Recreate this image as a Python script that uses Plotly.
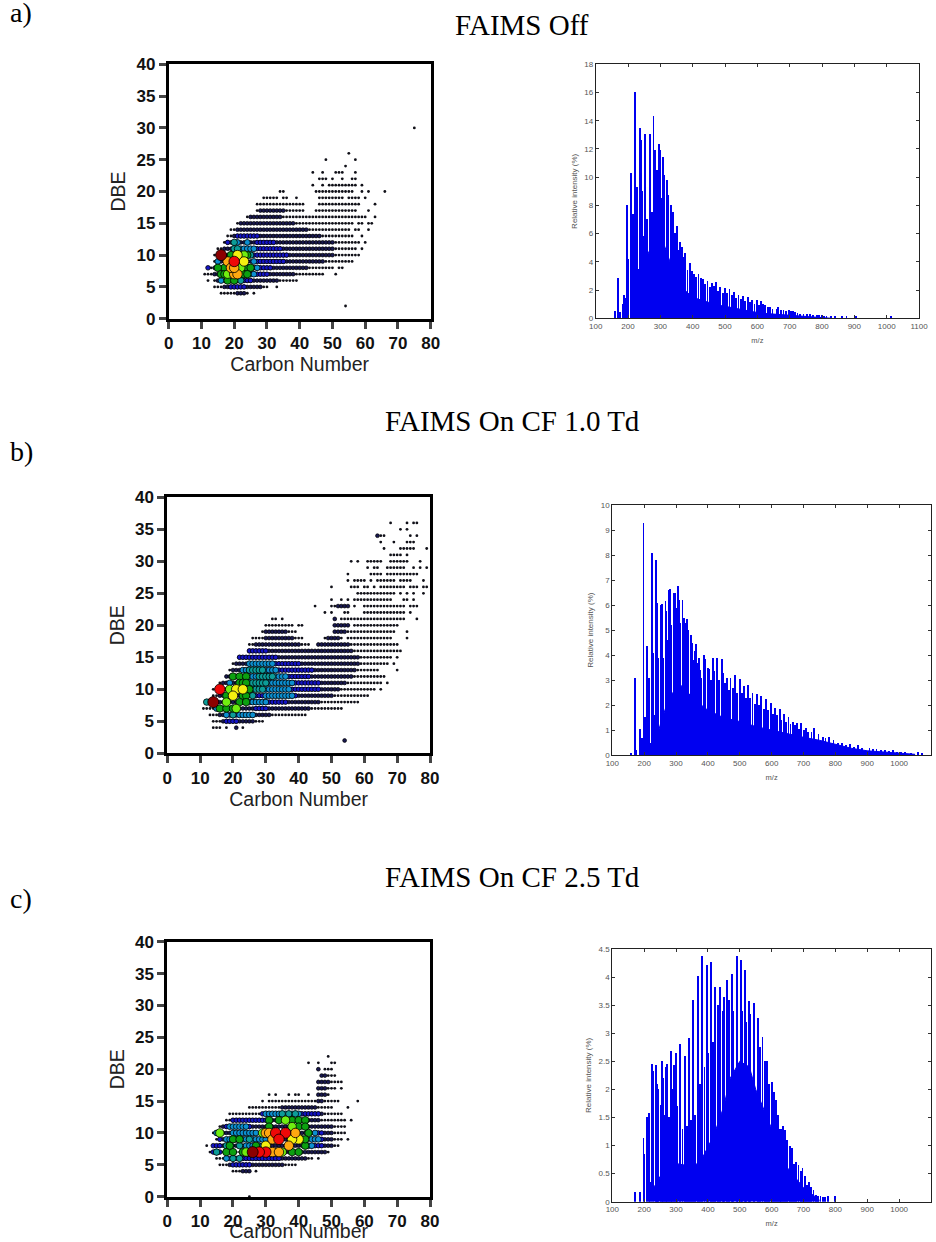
import plotly.graph_objects as go

W, H = 936, 1242

# ---------- Panel a: DBE vs carbon number, rows are (DBE, first C, last C) ----------
A_DOTS = [(2,54,54),(4,16,24),(4,26,26),(5,14,30),(5,33,33),(6,12,12),(6,14,39),(7,11,47),(7,51,51),
 (8,13,50),(8,52,53),(9,14,56),(10,14,58),(11,15,57),(11,59,59),(12,17,58),(12,60,60),(13,18,56),(13,59,59),
 (14,19,55),(14,57,58),(14,61,61),(15,21,56),(15,58,59),(15,61,62),(16,24,60),(16,63,63),(17,27,41),(17,45,57),(17,61,61),
 (18,27,41),(18,46,58),(18,63,63),(19,29,33),(19,35,36),(19,39,39),(19,46,53),(19,55,58),(19,60,60),
 (20,34,35),(20,45,56),(20,59,59),(20,61,61),(20,66,66),(21,44,44),(21,47,47),(21,49,57),(21,59,59),
 (22,46,48),(22,50,50),(22,53,53),(22,56,57),(23,44,44),(23,47,47),(23,51,53),(23,57,57),(24,54,54),
 (25,48,48),(25,57,57),(26,55,55),(30,75,75)]
A_NAVY = [(4,21,23),(5,17,28),(6,15,33),(7,14,38),(8,14,42),(9,15,47),(10,16,50),(11,17,50),(12,18,50),
 (13,20,46),(14,21,42),(15,22,38),(16,25,34),(17,28,35)]
A_BLUE = [(5,19,23),(6,18,25),(7,26,30),(8,12,12),(8,26,31),(9,27,35),(10,26,36),(11,27,34),(12,18,18),(12,27,32),(13,21,27)]
A_SKY = [(9,15,15),(8,15,15),(12,21,21),(12,24,24),(11,22,26),(9,26,26),(7,25,26),(6,16,16),(8,27,27)]
A_TEAL = [(12,20,20),(11,20,21),(6,22,22),(10,25,25)]
A_GREEN = [(10,19,19),(8,17,17),(8,15,15),(7,16,17),(6,18,18),(6,20,20),(10,22,22),(10,24,24),(9,22,22),(8,23,25),(7,22,24)]
A_LIME = [(8,22,22),(10,23,23),(7,18,18)]
A_YELLOW = [(10,21,21),(9,23,23)]
A_ORANGE = [(9,18,18),(7,20,21),(8,19,20)]
A_RED = [(9,20,20)]
A_DARK = [(10,16,16)]

# ---------- Panel b ----------
B_DOTS = [(2,54,54),(4,14,16),(4,18,18),(4,21,21),(4,23,23),(5,14,29),(6,13,42),(7,11,53),(8,13,58),(9,14,61),
 (10,14,63),(10,65,65),(11,16,65),(11,67,67),(12,18,66),(13,19,64),(13,70,70),(14,20,67),(14,69,69),
 (15,22,68),(15,70,70),(16,25,70),(16,71,71),(17,25,43),(17,46,70),(18,26,41),(18,48,49),(18,51,53),(18,55,68),(18,73,73),
 (19,29,39),(19,51,56),(19,57,69),(19,73,73),(20,30,36),(20,37,38),(20,40,41),(20,51,55),(20,57,70),
 (21,32,33),(21,35,35),(21,51,51),(21,53,56),(21,57,72),(21,76,76),(22,48,48),(22,50,50),(22,54,55),(22,60,72),(22,74,74),
 (23,45,45),(23,50,55),(23,57,57),(23,60,72),(23,74,76),(24,50,50),(24,53,53),(24,55,55),(24,57,68),(24,72,73),(24,75,75),
 (25,58,69),(25,71,71),(25,73,73),(25,75,75),(25,78,78),(26,50,50),(26,56,58),(26,60,61),(26,63,63),(26,65,72),(26,74,76),(26,78,79),
 (27,55,55),(27,57,60),(27,62,62),(27,64,69),(27,71,74),(27,78,78),(28,55,55),(28,62,65),(28,67,76),
 (29,61,61),(29,63,64),(29,67,72),(29,75,75),(29,77,77),(29,79,79),(30,56,56),(30,58,58),(30,61,65),(30,68,73),(30,77,77),
 (31,68,71),(31,73,73),(32,66,66),(32,71,75),(32,79,79),(33,65,65),(33,69,69),(33,73,75),(34,64,66),(34,74,74),(34,76,76),
 (35,71,71),(35,73,73),(36,68,68),(36,73,73),(36,75,76)]
B_NAVY = [(2,54,54),(4,21,21),(5,17,26),(6,16,31),(7,15,43),(8,15,46),(9,16,50),(10,17,52),(11,17,54),(12,18,56),(13,20,57),(14,21,58),
 (15,22,58),(16,25,56),(17,27,40),(17,46,55),(18,30,38),(18,49,52),(19,30,36),(19,51,54),(20,51,55),(21,51,51),(23,52,55),(34,64,64)]
B_BLUE = [(5,18,21),(6,18,26),(7,27,30),(8,23,36),(8,15,15),(9,27,39),(10,38,46),(11,38,46),(12,37,43),(13,34,44),(14,25,40),(15,22,33),(16,25,30)]
B_SKY = [(7,15,15),(6,18,18),(6,22,26),(8,25,30),(9,30,38),(10,30,37),(11,19,19),(11,30,38),(12,25,36),(13,23,33),(14,25,32)]
B_TEAL = [(8,12,12),(10,26,29),(11,25,30),(12,28,32),(13,25,29),(6,20,20),(9,26,26)]
B_GREEN = [(12,20,20),(12,22,22),(12,24,24),(11,22,24),(9,18,18),(9,23,24),(7,16,16),(7,18,18),(7,20,20),(8,22,22),(8,24,24),(10,24,25)]
B_LIME = [(8,18,18),(7,21,21),(10,19,19)]
B_YELLOW = [(10,21,21),(10,23,23),(9,20,20)]
B_ORANGE = []
B_RED = [(10,16,16)]
B_DARK = [(8,14,14)]

# ---------- Panel c ----------
C_DOTS = [(0,25,25),(4,20,23),(4,25,25),(4,27,27),(5,16,39),(6,15,44),(6,46,46),(7,13,49),(8,12,12),(8,14,52),(9,15,53),(9,55,55),
 (10,14,54),(11,16,54),(12,18,54),(12,56,56),(13,19,53),(14,25,50),(14,55,55),(15,29,29),(15,31,52),(15,58,58),
 (16,31,31),(16,33,33),(16,37,37),(16,39,40),(16,43,43),(16,46,49),(17,47,51),(17,53,53),(18,46,52),(18,53,53),(19,47,51),
 (20,46,46),(20,48,50),(21,43,43),(21,46,46),(21,50,51),(22,49,49)]
C_NAVY = [(4,23,25),(5,19,35),(6,20,42),(7,25,48),(8,16,50),(9,17,50),(10,16,50),(11,17,50),(12,20,46),(13,30,47),(14,35,45),
 (15,46,47),(16,46,48),(17,46,48),(18,46,49),(19,47,48),(20,46,46)]
C_BLUE = [(5,20,25),(6,18,34),(7,14,14),(7,16,16),(8,14,16),(8,44,47),(9,16,16),(9,47,47),(10,15,15),(10,46,47),(11,18,25),(12,20,30),(13,29,46)]
C_SKY = [(9,18,30),(10,15,15),(10,20,27),(10,45,45),(11,19,24),(8,24,30),(8,42,44),(13,30,40),(7,15,15),(6,18,18),(9,44,46)]
C_TEAL = [(7,15,15),(6,20,20),(6,22,22),(8,18,18),(8,22,22),(9,25,25),(13,35,35),(13,37,37),(13,39,39)]
C_GREEN = [(7,18,18),(7,20,20),(7,23,23),(9,20,20),(9,22,22),(8,19,19),(8,27,27),(10,43,43),(8,42,42),(12,31,31),(12,34,34),(12,38,38),
 (12,40,40),(12,42,42),(11,31,31),(11,40,40),(11,42,42),(7,33,33),(7,38,38),(7,40,40),(9,41,42)]
C_LIME = [(10,16,16),(7,24,24),(7,35,35),(11,38,38),(10,29,29),(12,36,36)]
C_YELLOW = [(9,40,40),(9,38,38),(8,30,30)]
C_ORANGE = [(10,30,31),(9,32,32),(8,37,37),(7,32,32),(7,34,34),(10,39,39)]
C_RED = [(7,30,30),(10,33,33),(7,28,28),(10,36,36),(9,34,34)]
C_DARK = [(7,26,26)]

# ---------- Spectra: m/z and relative intensity ----------
A_MZ = [158,169,173,183.5,186.6,194,197,200,207,211,214,217.5,221.6,226,229,235,240,243,248,250,252.6,258,266,268,273,278,283.5,
 288,294,297,302,307,312,319.6,323.7,332,337,350.5,361,366,376,390,397,404,417,431,445,459,472,484,500,513,526,541,555,569,582,598,610,624,639,
 664,680,696,709,723,742,763,783,798,813,840,860,875,905,1012]
A_INT = [.5,2.85,.4,1,1.65,1.4,8,4.2,10.3,4.5,7.4,1.5,16,9.3,3.5,13.5,12.6,9,5.8,11.9,13.05,7,13.05,11.6,7.5,14.3,11.9,
 10.5,12.3,11.9,8.5,11.4,10.1,9.75,8.7,8,7.5,6.5,5.4,5,4.6,3.9,3.3,3.1,3.1,2.75,2.6,2.5,2.55,2.2,2.1,2.05,1.85,1.65,1.55,1.5,1.25,1.25,1.2,.9,.75,
 .75,.6,.6,.5,.35,.3,.25,.2,.2,.15,.1,.1,.08,.08,.08]
A_MID_MZ = [345,356,370,383,410,424,438,452,465,478,492,506,520,534,548,562,576,590,604,617,632,646,660,672,688,702,716,732,752,772,790,806,826]
A_MID_INT = [6,4.8,4.3,3.4,2.9,2.8,2.4,2.2,2.3,1.9,1.8,1.8,1.6,1.4,1.35,1.2,1.1,1,.9,1,.8,.65,.65,.6,.5,.5,.4,.3,.25,.22,.2,.15,.12]
A_FILL_MZ = [212,225,240,255,270,285,300,315,330,345,360,380,400,425,450,475,500,530,560,590,620,650,680,720,760,800,830]
A_FILL_INT = [.2,1.5,3,4.2,5,5.6,5.8,5,4,3.2,2.4,1.9,1.5,1.3,1.1,.95,.85,.7,.55,.45,.35,.3,.25,.2,.12,.05,0]

B_MZ = [160,172,175,187,189,195,199,203.5,210,213,216,220,224.5,230,234,238,242,245,253,256,259,268,270,274,280,283,286,294.6,296.6,301,
 307,310,314,321,325,329,335,338,348,350,359,363.6,373,377,388,393,405,416,421,429.5,436,444,449,461,472,486,502,513,527,541,555,568.6,583,598,611.5,626,639,654,668,
 681.6,694,710,734,762,781,809,846,872,908,930,956,982,1008,1039,1060,1073]
B_INT = [.1,3.1,.2,1.05,.5,.7,9.3,1.55,4.35,2,3.1,.5,8.1,4.1,1.6,7.8,6.1,3.9,6,6.05,3.9,6.15,5.75,4.6,6.6,6.65,5.2,6.5,6.5,5.9,
 6.75,6.2,5.3,6.2,5.5,5.3,5.45,5,4.8,4.5,4.15,4.45,3.9,3.4,4,3.85,3.45,3.9,3.35,3.9,3,3.85,3.3,3.1,3.1,3.2,3.05,2.75,2.8,2.5,2.45,2.35,2.25,2.1,1.9,1.85,1.65,1.55,1.35,
 1.3,1.3,1.1,1.08,.75,.72,.5,.45,.4,.3,.25,.2,.2,.15,.1,.15,.1]
B_MID_MZ = [354,367,381,400,410,454,467,479,493,507,520,534,548,562,576,590,604,618,632,646,660,675,688,702,716,726,748,770,795,822,835,860,885,920,945,968,995,1020]
B_MID_INT = [3.8,3.7,3.1,3.5,3,2.9,2.6,2.7,2.5,2.5,2.3,2.3,2.05,2,1.85,1.8,1.65,1.6,1.4,1.35,1.25,1.2,1.05,1,.95,.95,.85,.7,.62,.5,.42,.35,.3,.25,.2,.18,.15,.12]
B_FILL_MZ = [228,250,280,320,350,400,450,500,550,600,650,700,750,800,850,900,950,1000,1050]
B_FILL_INT = [.2,1.2,2.4,2.8,2.3,1.8,1.5,1.35,1.15,1,.85,.72,.6,.45,.28,.18,.13,.08,.04]

C_MZ = [172,188,199,202,210,215,218,224.5,230,238,242,245,252,256,259,265,269.5,272.6,278,285,288,295.6,300,305,313,321,328,335,341.6,349,355,361,370,376,
 383.5,390,397,403,410.7,417,424,433.7,439,448,452.5,462,467,475.5,480,491,494,505,508,518,521,531,534,544.6,558,572,586,602,615,627,631,644,657.5,670,685,698,
 711,725.5,739,746,754,762,769,778,800]
C_INT = [.18,.18,1.13,.85,1.5,1.58,.35,2.45,2.32,2.44,2.1,2,1.72,2.5,2.2,1.55,2.4,2.45,1.5,2.68,2,2.43,2.64,1.7,2.8,1.3,2.6,1.35,2.92,1.45,3.6,1.55,4.02,2.1,
 4.38,2.4,4.22,2.65,4.27,2.85,3.82,3.5,3.83,3.4,3.65,3.95,3.6,4.05,3.4,4.37,3.6,4.3,3.4,4.13,3.2,3.57,3.35,3.53,3.27,2.93,2.5,2.14,1.82,1.3,1.3,1.28,1,.68,.65,.6,
 .29,.27,.12,.1,.1,.08,.08,.1,.1]
C_MID_MZ = [565,579,593,608,622,636,650,664,677,692,705,718,732]
C_MID_INT = [2.75,2.5,2.1,1.95,1.55,1.35,1.1,.95,.7,.55,.45,.35,.2]
C_FILL_MZ = [230,250,280,330,350,380,420,450,470,500,530,550,600,630,650,700,750]
C_FILL_INT = [.25,.45,.7,.65,.6,.75,1.2,1.7,2.2,2.5,2.4,2,1.3,.85,.6,.25,.03]

# ---------- Axis labels ----------
SCATTER_XTICKS = [0,10,20,30,40,50,60,70,80]
SCATTER_YTICKS = [0,5,10,15,20,25,30,35,40]
MZ_TICKS = [100,200,300,400,500,600,700,800,900,1000,1100]
A_YTICKS = [0,2,4,6,8,10,12,14,16,18]
B_YTICKS = [0,1,2,3,4,5,6,7,8,9,10]
C_YTICKS = [0,0.5,1,1.5,2,2.5,3,3.5,4,4.5]
TITLES = ["FAIMS Off","FAIMS On CF 1.0 Td","FAIMS On CF 2.5 Td"]
LETTERS = ["a)","b)","c)"]

# ---------- Styling and layout (pixels) ----------
LEVELS = [("dots","#101018",2.8,0),("navy","#181850",3.8,.7),("blue","#1414c8",4.6,.8),("sky","#0c8fd0",5.8,.8),
 ("teal","#0c9c98",6.5,.8),("green","#0ca010",7.5,.8),("lime","#70ee10",8.5,.8),("yellow","#f4f010",9.5,.8),
 ("orange","#ffa810",9.5,.8),("red","#ee0808",10.5,.8),("dark","#8c0000",11,.8)]
SETS = [[A_DOTS,A_NAVY,A_BLUE,A_SKY,A_TEAL,A_GREEN,A_LIME,A_YELLOW,A_ORANGE,A_RED,A_DARK],
        [B_DOTS,B_NAVY,B_BLUE,B_SKY,B_TEAL,B_GREEN,B_LIME,B_YELLOW,B_ORANGE,B_RED,B_DARK],
        [C_DOTS,C_NAVY,C_BLUE,C_SKY,C_TEAL,C_GREEN,C_LIME,C_YELLOW,C_ORANGE,C_RED,C_DARK]]
SPECTRA = [(A_MZ,A_INT,A_MID_MZ,A_MID_INT,A_FILL_MZ,A_FILL_INT,A_YTICKS,18),(B_MZ,B_INT,B_MID_MZ,B_MID_INT,B_FILL_MZ,B_FILL_INT,B_YTICKS,10),
           (C_MZ,C_INT,C_MID_MZ,C_MID_INT,C_FILL_MZ,C_FILL_INT,C_YTICKS,4.5)]

SC_BOX = [(168.7,430.7,64.3,318.7),(167.3,430,497.3,753.3),(167.3,430,941.7,1196.7)]
SP_BOX = [(595.7,919,64.3,318.3),(612.3,931,505,755.3),(612.3,931,949,1201.7)]
TITLE_POS = [(522,25),(512,421),(512,877)]
LETTER_Y = [12,451,898]

def dom(b):
    return [b[0]/W,b[1]/W],[1-b[3]/H,1-b[2]/H]

fig = go.Figure()
layout = dict(width=W,height=H,margin=dict(l=0,r=0,t=0,b=0),paper_bgcolor="white",plot_bgcolor="white",
              showlegend=False,bargap=0,barmode="overlay",annotations=[])
SANS = "Liberation Sans"
SERIF = "Liberation Serif"

for i in range(3):
    ax = 2*i+1
    xn, yn = f"x{ax}", f"y{ax}"
    for (name,col,size,lw),rows in zip(LEVELS,SETS[i]):
        xs,ys=[],[]
        for d,c0,c1 in rows:
            for c in range(c0,c1+1):
                xs.append(c); ys.append(d)
        if not xs:
            continue
        fig.add_trace(go.Scatter(x=xs,y=ys,mode="markers",xaxis=xn,yaxis=yn,name=name,cliponaxis=False,
            marker=dict(size=size,color=col,line=dict(color="#000000",width=lw))))
    dx,dy = dom(SC_BOX[i])
    base = dict(ticks="outside",ticklen=7,tickwidth=2.5,automargin=False,showline=True,linewidth=2.8,linecolor="#000",mirror=True,
                showgrid=False,zeroline=False,tickfont=dict(family=SANS,size=17,color="#111",weight=700))
    layout[f"xaxis{ax}"] = dict(domain=dx,anchor=yn,range=[0,80],tickvals=SCATTER_XTICKS,
        title=dict(text="Carbon Number",standoff=6,font=dict(family=SANS,size=19.5,color="#222")),**base)
    layout[f"yaxis{ax}"] = dict(domain=dy,anchor=xn,range=[0,40],tickvals=SCATTER_YTICKS,
        title=dict(text="DBE",standoff=6,font=dict(family=SANS,size=19.5,color="#222")),**base)
    ax = 2*i+2
    xn, yn = f"x{ax}", f"y{ax}"
    mz,inten,mmz,mint,fx,fy,yt,ymax = SPECTRA[i]
    fig.add_trace(go.Scatter(x=fx,y=fy,mode="lines",fill="tozeroy",fillcolor="#0000f0",line=dict(color="#0000f0",width=1),xaxis=xn,yaxis=yn))
    fig.add_trace(go.Bar(x=mz,y=inten,width=2.6,marker=dict(color="#0000f0",line=dict(width=0)),xaxis=xn,yaxis=yn))
    fig.add_trace(go.Bar(x=mmz,y=mint,width=2.6,marker=dict(color="#0000f0",line=dict(width=0)),xaxis=xn,yaxis=yn))
    dx,dy = dom(SP_BOX[i])
    common = dict(ticks="inside",ticklen=3,tickwidth=.7,tickcolor="#333",showline=True,linewidth=1,linecolor="#222",mirror="ticks",automargin=False,
                  showgrid=False,zeroline=False,tickfont=dict(family=SANS,size=8,color="#555"))
    layout[f"xaxis{ax}"] = dict(domain=dx,anchor=yn,range=[100,1100],tickvals=MZ_TICKS,
        title=dict(text="m/z",standoff=7,font=dict(family=SANS,size=7.5,color="#555")),**common)
    layout[f"yaxis{ax}"] = dict(domain=dy,anchor=xn,range=[0,ymax],tickvals=yt,
        title=dict(text="Relative intensity (%)",standoff=5,font=dict(family=SANS,size=8,color="#555")),**common)
    tx,ty = TITLE_POS[i]
    layout["annotations"].append(dict(text=TITLES[i],x=tx/W,y=1-ty/H,xref="paper",yref="paper",showarrow=False,
        xanchor="center",yanchor="middle",font=dict(family=SERIF,size=29,color="#000")))
    layout["annotations"].append(dict(text=LETTERS[i],x=8/W,y=1-LETTER_Y[i]/H,xref="paper",yref="paper",showarrow=False,
        xanchor="left",yanchor="middle",font=dict(family=SERIF,size=28,color="#000")))

fig.update_layout(**layout)
fig.write_html("out.html",config={"displayModeBar":False},post_script="document.body.style.margin='0';")
